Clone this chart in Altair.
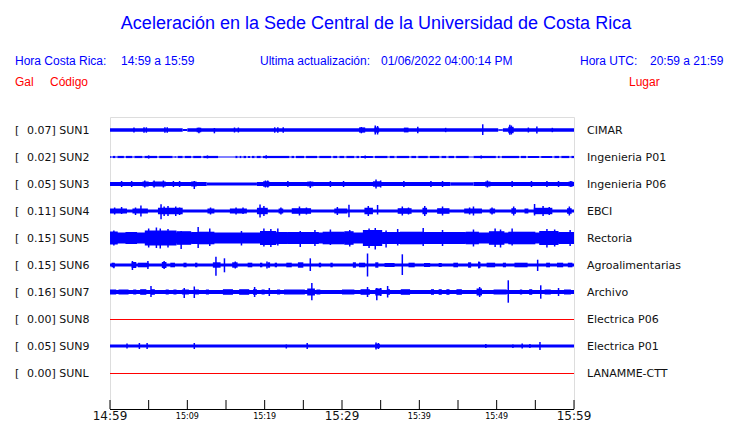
import altair as alt
import pandas as pd

# ---------------- data ----------------
CODES = ["SUN1", "SUN2", "SUN3", "SUN4", "SUN5", "SUN6", "SUN7", "SUN8", "SUN9", "SUNL"]
GAINS = ["0.07", "0.02", "0.05", "0.11", "0.15", "0.15", "0.16", "0.00", "0.05", "0.00"]
PLACES = ["CIMAR", "Ingenieria P01", "Ingenieria P06", "EBCI", "Rectoria",
          "Agroalimentarias", "Archivo", "Electrica P06", "Electrica P01", "LANAMME-CTT"]

TICK_MINUTES = [0, 5, 10, 15, 20, 25, 30, 35, 40, 45, 50, 55, 60]
LABEL_MINUTES = [0, 10, 20, 30, 40, 50, 60]
LABEL_TEXT = ["14:59", "15:09", "15:19", "15:29", "15:39", "15:49", "15:59"]
LABEL_BIG = [True, False, False, True, False, False, True]

# background envelope amplitude of each trace (display units)
BASE_AMP = [1.7, 1.1, 2.0, 1.5, 5.5, 1.5, 2.0, 0.0, 1.4, 0.0]

# quieter stretches: (start min, end min, amplitude)
QUIET = {
    "SUN1": [(9.4, 10.0, 1.0), (50.2, 50.8, 0.8)],
    "SUN2": [(0.1, 0.35, 0.5), (0.7, 0.95, 0.5), (1.8, 2.05, 0.5), (2.9, 3.15, 0.5),
             (4.2, 4.45, 0.5), (6.1, 6.35, 0.5), (8.1, 8.35, 0.5), (8.5, 8.75, 0.5),
             (9.4, 9.65, 0.5), (10.5, 10.75, 0.5), (11.8, 12.05, 0.5), (14.0, 16.2, 0.5),
             (16.5, 16.75, 0.5), (17.0, 17.25, 0.5), (17.6, 17.85, 0.5), (18.1, 18.35, 0.5),
             (18.7, 18.95, 0.5), (19.5, 19.75, 0.5), (23.2, 23.45, 0.5), (23.8, 24.05, 0.5),
             (25.1, 25.35, 0.5), (26.8, 27.05, 0.5), (28.6, 28.85, 0.5), (29.4, 29.65, 0.5),
             (30.3, 30.55, 0.5), (31.6, 31.85, 0.5), (32.2, 32.45, 0.5), (34.0, 34.25, 0.5),
             (35.9, 36.15, 0.5), (36.8, 37.05, 0.5), (38.7, 38.95, 0.5), (39.6, 39.85, 0.5),
             (41.1, 41.35, 0.5), (42.6, 42.85, 0.5), (43.5, 43.75, 0.5), (44.5, 44.75, 0.5),
             (46.4, 47.0, 0.5), (49.9, 50.15, 0.5), (50.4, 50.65, 0.5), (52.9, 53.15, 0.5),
             (53.8, 54.05, 0.5), (55.5, 55.75, 0.5), (57.2, 57.45, 0.5), (58.1, 58.35, 0.5),
             (59.4, 59.65, 0.5)],
    "SUN3": [(12.5, 19.0, 1.6), (44.0, 47.0, 1.7)],
}

# louder stretches: (start min, end min, amplitude)
BURSTS = {
    "SUN1": [(11.2, 11.8, 2.3), (32.2, 33.0, 2.6), (34.2, 34.8, 2.6), (38.0, 38.6, 2.4), (51.5, 52.2, 3.2)],
    "SUN2": [],
    "SUN3": [(4.2, 5.0, 2.5), (5.5, 7.2, 2.5), (10.5, 11.2, 2.5), (19.8, 20.6, 2.7), (25.5, 26.3, 2.4),
             (34.0, 35.0, 2.7), (48.5, 49.2, 2.5), (59.3, 59.9, 2.5)],
    "SUN4": [(0.0, 2.2, 2.5), (2.9, 4.9, 2.5), (6.2, 9.4, 3.2), (12.6, 13.5, 2.5), (15.5, 17.7, 2.5),
             (19.0, 20.4, 3.2), (21.8, 22.4, 2.5), (23.5, 26.0, 2.8), (29.0, 30.7, 2.5), (32.9, 34.0, 3.2),
             (37.2, 39.0, 2.8), (40.4, 41.0, 3.2), (42.3, 43.9, 2.8), (45.8, 48.1, 2.5), (49.1, 49.8, 2.5),
             (51.9, 52.5, 2.8), (53.6, 54.1, 2.5), (54.8, 57.2, 3.2), (59.1, 59.7, 2.8)],
    "SUN5": [(0.0, 1.0, 6.5), (2.0, 3.5, 6.0), (4.5, 8.6, 7.5), (8.6, 10.5, 6.8), (10.5, 11.5, 6.0),
             (11.5, 13.5, 6.3), (19.4, 21.5, 7.0), (21.5, 23.0, 6.0), (23.0, 27.0, 6.0), (27.5, 30.3, 6.3),
             (30.3, 31.5, 6.8), (32.7, 35.2, 8.0), (35.2, 37.5, 6.0), (37.5, 40.5, 6.3), (40.5, 46.0, 6.0),
             (46.0, 47.7, 6.3), (49.0, 51.0, 6.8), (51.5, 55.0, 6.3), (55.5, 58.0, 7.0), (58.0, 60.0, 6.0)],
    "SUN6": [(0.2, 0.6, 2.3), (2.8, 3.4, 3.0), (3.6, 5.0, 2.3), (6.7, 7.3, 3.0), (7.8, 8.4, 2.3),
             (9.5, 9.9, 2.3), (11.0, 11.3, 2.3), (13.3, 14.3, 2.7), (15.8, 16.5, 2.7), (17.8, 18.4, 2.3),
             (19.4, 19.7, 2.3), (20.4, 20.7, 2.7), (21.3, 21.6, 2.3), (22.8, 23.5, 2.3), (24.3, 25.0, 2.7),
             (27.0, 27.3, 2.3), (28.5, 28.8, 2.3), (31.4, 31.8, 2.7), (32.2, 33.0, 2.3), (34.3, 34.7, 2.7),
             (35.5, 36.8, 2.0), (38.6, 39.4, 2.3), (40.6, 41.4, 2.0), (42.5, 42.9, 2.0), (44.4, 45.0, 2.3),
             (46.3, 46.7, 2.7), (47.6, 47.9, 3.0), (48.7, 49.8, 2.3), (50.8, 51.2, 2.3), (52.3, 54.0, 2.3),
             (56.4, 56.9, 2.3), (57.8, 58.6, 2.3), (59.2, 59.8, 2.3)],
    "SUN7": [(0.0, 0.8, 2.5), (1.1, 2.4, 2.5), (3.0, 3.4, 2.5), (3.9, 4.7, 2.8), (5.3, 5.8, 2.8),
             (7.2, 7.6, 2.5), (8.2, 8.6, 2.5), (9.3, 10.2, 2.5), (11.0, 11.5, 2.5), (12.4, 12.8, 2.5),
             (14.6, 15.9, 2.8), (16.7, 18.0, 2.8), (18.5, 19.0, 2.8), (19.6, 20.0, 2.5), (21.6, 22.0, 2.5),
             (22.5, 25.2, 2.5), (25.5, 26.5, 3.5), (26.7, 27.2, 2.5), (30.0, 31.6, 2.5), (32.4, 33.6, 2.8),
             (34.3, 35.1, 3.5), (35.8, 36.2, 2.8), (37.6, 38.8, 2.8), (41.5, 41.9, 2.8), (42.5, 42.9, 2.8),
             (43.5, 43.9, 2.8), (44.8, 45.5, 2.8), (47.4, 48.1, 3.5), (49.6, 51.3, 2.5), (53.0, 53.3, 2.5),
             (54.2, 54.6, 2.8), (56.2, 57.0, 2.5), (58.7, 59.6, 2.5)],
    "SUN8": [],
    "SUN9": [(34.3, 34.9, 2.2)],
    "SUNL": [],
}

# individual peaks: (minute, amplitude up, amplitude down)
SPIKES = {
    "SUN1": [(3.1, 2.5, 2.5), (4.4, 2.7, 2.7), (4.7, 2.7, 2.7), (7.1, 2.7, 2.7), (7.4, 2.7, 2.7),
             (11.5, 2.3, 3.3), (13.5, 2.0, 3.3), (16.1, 2.5, 2.5), (16.6, 2.5, 2.5), (21.3, 2.7, 2.7),
             (21.7, 2.7, 2.7), (22.4, 2.7, 2.7), (32.5, 3.0, 3.3), (34.3, 4.5, 4.5), (34.6, 4.0, 4.5),
             (39.8, 3.3, 3.3), (43.4, 2.2, 2.2), (48.2, 5.7, 5.0), (51.7, 5.3, 4.8), (51.9, 4.5, 4.5),
             (54.1, 2.5, 2.5), (55.2, 3.5, 3.5), (57.2, 2.2, 2.2)],
    "SUN2": [(5.0, 1.6, 1.6), (12.6, 1.6, 1.4), (20.2, 1.7, 1.5), (33.0, 1.6, 1.6), (48.0, 1.5, 1.5)],
    "SUN3": [(1.5, 3.0, 3.0), (2.8, 3.0, 3.0), (4.5, 3.5, 3.5), (5.7, 3.5, 3.5), (6.9, 3.5, 3.5),
             (8.2, 3.0, 3.0), (9.0, 3.0, 3.0), (10.9, 3.0, 5.0), (20.1, 3.5, 3.5), (20.4, 3.5, 3.5),
             (23.0, 3.0, 3.0), (25.9, 2.5, 4.0), (28.5, 3.0, 3.0), (30.2, 3.0, 3.0), (34.4, 4.5, 4.5),
             (35.0, 3.5, 3.5), (38.0, 3.0, 3.0), (41.5, 3.0, 3.0), (43.0, 3.0, 3.0), (48.8, 3.5, 3.5),
             (52.0, 3.0, 3.0), (54.5, 3.0, 3.0), (56.5, 3.0, 3.0), (58.0, 3.0, 3.0), (59.6, 3.0, 3.0)],
    "SUN4": [(0.6, 3.5, 3.5), (1.5, 4.0, 3.0), (3.3, 3.5, 4.0), (4.0, 5.5, 5.5), (6.6, 6.7, 8.3),
             (7.0, 4.5, 5.0), (7.5, 5.0, 5.0), (8.5, 4.5, 5.0), (9.0, 3.5, 4.0), (13.0, 3.5, 3.5),
             (16.3, 3.5, 3.5), (17.2, 3.5, 3.0), (19.4, 6.5, 6.5), (19.9, 5.0, 5.0), (22.1, 3.5, 3.5),
             (24.5, 4.5, 4.5), (25.4, 3.5, 3.5), (29.4, 4.0, 4.0), (30.9, 6.3, 6.3), (33.4, 5.0, 5.0),
             (34.6, 6.0, 3.5), (37.8, 4.5, 4.5), (38.6, 3.5, 3.5), (40.7, 5.0, 5.0), (43.0, 4.5, 4.5),
             (46.5, 3.5, 3.5), (47.0, 4.5, 4.5), (49.4, 3.5, 3.5), (52.2, 4.5, 4.5), (54.9, 7.0, 4.5),
             (56.0, 5.0, 5.0), (56.8, 4.0, 4.0), (59.4, 4.5, 4.5)],
    "SUN5": [(0.5, 7.5, 7.5), (5.0, 9.5, 9.5), (6.0, 10.5, 10.0), (6.5, 9.5, 10.5), (7.5, 9.0, 9.5),
             (9.2, 7.0, 11.0), (11.4, 11.0, 10.0), (12.9, 9.5, 8.0), (17.0, 7.0, 7.5), (19.9, 9.5, 8.5),
             (20.8, 9.0, 9.0), (21.7, 9.5, 7.5), (24.6, 7.0, 9.0), (26.5, 8.0, 8.0), (28.5, 8.5, 7.0),
             (31.0, 8.0, 8.5), (33.5, 9.5, 10.0), (34.3, 10.0, 11.5), (35.7, 7.5, 9.5), (37.2, 9.0, 7.5),
             (40.5, 10.0, 8.0), (43.0, 8.0, 8.0), (47.0, 8.5, 8.5), (49.8, 9.5, 9.0), (50.5, 8.5, 9.5),
             (52.0, 9.5, 7.5), (56.5, 9.0, 9.5), (57.5, 8.5, 8.5), (59.5, 8.0, 8.0)],
    "SUN6": [(0.5, 2.0, 3.3), (2.9, 4.0, 5.0), (4.9, 4.0, 4.0), (7.0, 4.0, 4.0), (13.7, 8.3, 10.7),
             (14.8, 6.7, 7.3), (16.2, 3.5, 3.5), (20.3, 3.5, 3.5), (25.9, 6.7, 6.0), (33.3, 11.5, 11.5),
             (37.8, 10.7, 10.0), (47.7, 3.5, 3.5), (55.3, 5.3, 6.0)],
    "SUN7": [(5.3, 6.0, 5.0), (9.6, 4.0, 6.0), (10.9, 5.5, 6.0), (18.7, 5.0, 5.0), (20.6, 4.0, 4.0),
             (26.1, 9.0, 8.3), (33.3, 5.0, 5.0), (34.5, 4.0, 8.3), (35.0, 4.0, 4.0), (35.9, 6.0, 5.5),
             (47.8, 5.0, 5.0), (51.5, 11.7, 10.7), (55.7, 6.7, 6.7), (58.0, 4.0, 4.0)],
    "SUN8": [],
    "SUN9": [(2.2, 2.5, 2.5), (3.8, 3.0, 3.0), (4.8, 3.0, 3.0), (10.9, 3.0, 3.0), (22.8, 1.5, 2.5),
             (25.5, 3.0, 3.0), (34.4, 3.5, 3.5), (34.7, 3.0, 3.0), (48.6, 2.0, 2.0), (52.1, 1.5, 2.0),
             (53.3, 2.5, 2.5), (54.3, 2.0, 2.0), (55.6, 4.0, 4.0)],
    "SUNL": [],
}

# ---------------- layout ----------------
W, H = 464, 292
ROW = 27
Y_DOMAIN = [-13, 279]
BLUE = "#0000ff"
RED = "#ff0000"
HEAD_FONT = "Liberation Sans"
BODY_FONT = "DejaVu Sans"

rect_rows, spike_rows, flat_rows, label_rows = [], [], [], []
for i, code in enumerate(CODES):
    off = i * ROW
    label_rows.append({"y": off, "left": f"{GAINS[i]}] {code}", "place": PLACES[i]})
    base = BASE_AMP[i]
    if base == 0:
        flat_rows.append({"t": 0, "t2": 60, "y": off + 0.5})
        continue
    quiet = sorted(QUIET.get(code, []))
    cur = 0.0
    for (a, b, amp) in quiet:
        if a > cur:
            rect_rows.append({"t": cur, "t2": a, "y": off - base, "y2": off + base})
        rect_rows.append({"t": a, "t2": b, "y": off - amp, "y2": off + amp})
        cur = b
    if cur < 60:
        rect_rows.append({"t": cur, "t2": 60, "y": off - base, "y2": off + base})
    for (a, b, amp) in BURSTS.get(code, []):
        rect_rows.append({"t": a, "t2": b, "y": off - amp, "y2": off + amp})
    for (t, up, dn) in SPIKES.get(code, []):
        spike_rows.append({"t": t, "y": off - up, "y2": off + dn})

xs = alt.Scale(domain=[0, 60], nice=False, zero=False)
ys = alt.Scale(domain=Y_DOMAIN, reverse=True, nice=False, zero=False)
X = alt.X("t:Q", scale=xs, axis=None)
Y = alt.Y("y:Q", scale=ys, axis=None)

rects = alt.Chart(pd.DataFrame(rect_rows)).mark_rect(color=BLUE, strokeWidth=0).encode(
    x=X, x2="t2:Q", y=Y, y2="y2:Q")
spikes = alt.Chart(pd.DataFrame(spike_rows)).mark_rule(color=BLUE, strokeWidth=1.5).encode(
    x=X, y=Y, y2="y2:Q")
flats = alt.Chart(pd.DataFrame(flat_rows)).mark_rule(color=RED, strokeWidth=1).encode(
    x=X, x2="t2:Q", y=Y)

labels_df = pd.DataFrame(label_rows)
lbl_common = dict(font=BODY_FONT, fontSize=11, color="#111111", baseline="middle", align="left", dy=1)
bracket = alt.Chart(labels_df).mark_text(**lbl_common, text="[").encode(x=alt.value(-95), y=Y)
left_lbl = alt.Chart(labels_df).mark_text(**lbl_common).encode(x=alt.value(-83), y=Y, text="left:N")
right_lbl = alt.Chart(labels_df).mark_text(**lbl_common).encode(x=alt.value(477), y=Y, text="place:N")

# time axis
axis_line = alt.Chart(pd.DataFrame({"t": [0]})).mark_rule(color="black", strokeWidth=1).encode(
    x=alt.value(0), x2=alt.value(W), y=alt.value(H + 0.5))
ticks = alt.Chart(pd.DataFrame({"t": TICK_MINUTES})).mark_rule(color="black", strokeWidth=1).encode(
    x=X, y=alt.value(H - 9), y2=alt.value(H))
lab_df = pd.DataFrame({"t": LABEL_MINUTES, "lab": LABEL_TEXT, "big": LABEL_BIG})
big_lab = alt.Chart(lab_df[lab_df.big]).mark_text(font=BODY_FONT, fontSize=12, fontWeight="normal",
                                                  color="#111111", baseline="alphabetic", align="center").encode(
    x=X, y=alt.value(H + 11), text="lab:N")
small_lab = alt.Chart(lab_df[~lab_df.big]).mark_text(font=BODY_FONT, fontSize=8, color="black",
                                                     baseline="alphabetic", align="center").encode(
    x=X, y=alt.value(H + 10), text="lab:N")

# header
def head(text, x, y, color, size=12, align="left"):
    return alt.Chart(pd.DataFrame({"s": [text]})).mark_text(
        font=HEAD_FONT, fontSize=size, color=color, align=align, baseline="alphabetic").encode(
        x=alt.value(x), y=alt.value(y), text="s:N")

TITLE = "Aceleración en la Sede Central de la Universidad de Costa Rica"
headers = [
    head(TITLE, 266, -88, BLUE, size=18, align="center"),
    head("Hora Costa Rica:", -95, -52, BLUE),
    head("14:59 a 15:59", 11, -52, BLUE),
    head("Ultima actualización:", 150, -52, BLUE),
    head("01/06/2022 04:00:14 PM", 271, -52, BLUE),
    head("Hora UTC:", 470, -52, BLUE),
    head("20:59 a 21:59", 540, -52, BLUE),
    head("Gal", -95, -31, RED),
    head("Código", -60, -31, RED),
    head("Lugar", 519, -31, RED),
]

chart = alt.layer(
    rects, spikes, flats, bracket, left_lbl, right_lbl,
    axis_line, ticks, big_lab, small_lab, *headers
).properties(
    width=W, height=H,
    padding={"left": 102, "top": 109, "right": 158, "bottom": 14},
    autosize=alt.AutoSizeParams(type="none"),
).configure_view(stroke=None).configure(background="white")

chart.save("out.html", embed_options={"renderer": "svg", "actions": False})
